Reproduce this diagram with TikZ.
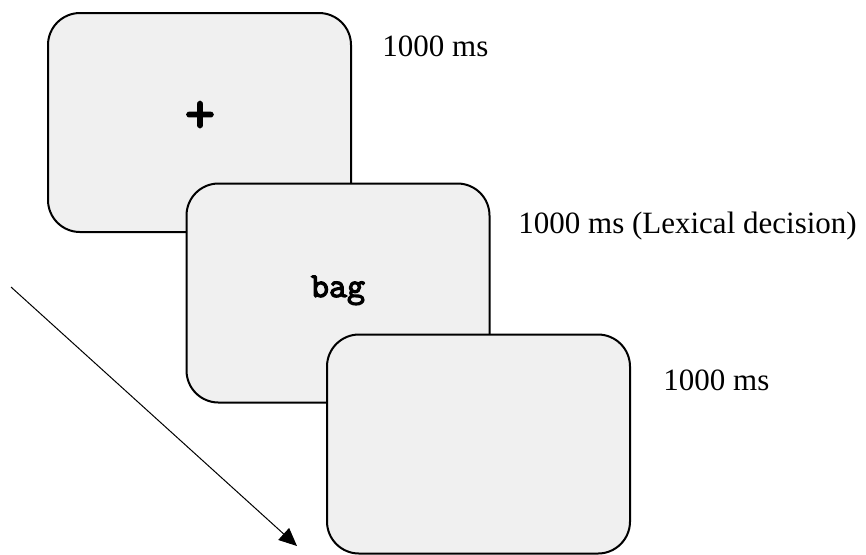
\documentclass[tikz,border=0pt]{standalone}
\usepackage{fontspec}
\setmainfont{Liberation Serif}
\newfontfamily\stimfont[FakeBold=3.5]{Latin Modern Mono}
\usetikzlibrary{arrows.meta}
\definecolor{screenfill}{RGB}{240,240,240}
\tikzset{
  screen/.style={draw=black, line width=1pt, fill=screenfill, rounded corners=16pt,
    minimum width=151.5pt, minimum height=109.5pt, inner sep=0pt},
  stim/.style={font=\stimfont\fontsize{17.5}{20}\selectfont},
  fixation/.style={inner sep=0pt, font=\stimfont\fontsize{29}{30}\selectfont},
  dur/.style={anchor=base west, inner sep=0pt, font=\fontsize{15.5}{18}\selectfont},
}
\begin{document}
\begin{tikzpicture}[x=0.5pt, y=-0.5pt]
  \useasboundingbox (0,0) rectangle (866,554);
  % three successive screens of the trial
  \node[screen] (fix) at (199.5,122.5) {};
  \node[fixation] (plus) at (200,117) {+};
  \node[screen] (word) at (338,293) {};
  \node[stim, anchor=base] (bag) at (338,297) {bag};
  \node[screen] (blank) at (478.5,444) {};
  % durations
  \node[dur] (d1) at (382,56) {1000 ms};
  \node[dur] (d2) at (518,233) {1000 ms (Lexical decision)};
  \node[dur] (d3) at (663,390) {1000 ms};
  % time arrow
  \coordinate (tstart) at (11,287);
  \coordinate (tend) at (297,546);
  \draw[line width=0.5pt, -{Triangle[length=9pt, width=8pt]}] (tstart) -- (tend);
\end{tikzpicture}
\end{document}
